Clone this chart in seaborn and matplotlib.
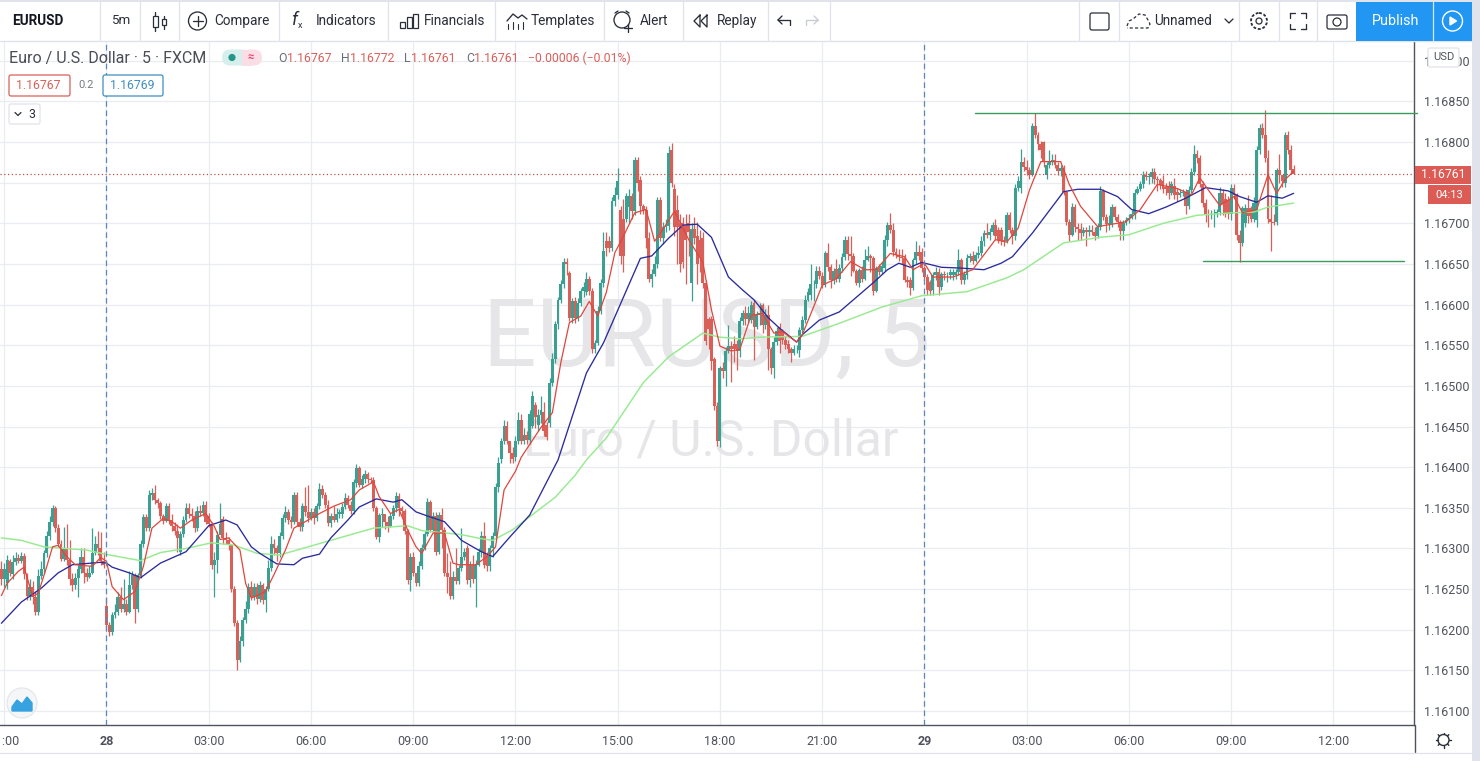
import numpy as np
import pandas as pd
import seaborn as sns
import matplotlib
matplotlib.use("Agg")
import matplotlib.pyplot as plt
from matplotlib.patches import Rectangle, Circle, FancyBboxPatch

# prices are stored as points above 1.16000 (285 -> 1.16285), one candle per 5 minutes, 12 a row
opens = [
    275, 262, 257, 285, 268, 283, 288, 285, 291, 268, 241, 252,
    240, 222, 266, 275, 294, 315, 333, 350, 325, 305, 287, 300,
    286, 263, 255, 264, 275, 290, 270, 265, 270, 295, 305, 300,
    285, 229, 206, 197, 218, 222, 240, 225, 232, 222, 255, 267,
    226, 267, 305, 339, 325, 366, 368, 360, 356, 340, 334, 352,
    335, 328, 322, 296, 318, 335, 350, 342, 340, 325, 346, 344,
    354, 340, 330, 280, 286, 317, 336, 313, 311, 304, 250, 208,
    163, 186, 212, 225, 253, 240, 253, 238, 255, 237, 250, 276,
    306, 300, 294, 315, 337, 345, 335, 333, 366, 333, 327, 352,
    345, 337, 345, 337, 352, 373, 366, 354, 331, 340, 335, 342,
    342, 351, 362, 354, 346, 380, 399, 378, 385, 392, 386, 384,
    350, 314, 341, 342, 333, 328, 340, 350, 365, 350, 346, 322,
    261, 290, 270, 258, 278, 300, 318, 357, 323, 340, 296, 341,
    323, 270, 265, 241, 265, 260, 276, 290, 300, 261, 280, 262,
    280, 296, 315, 292, 278, 300, 315, 376, 410, 432, 451, 432,
    418, 412, 432, 458, 432, 440, 433, 451, 476, 452, 464, 468,
    452, 455, 504, 533, 576, 606, 625, 652, 639, 584, 604, 584,
    602, 617, 615, 631, 617, 545, 553, 592, 627, 678, 678, 670,
    727, 735, 717, 706, 706, 720, 734, 715, 778, 754, 721, 717,
    682, 631, 638, 650, 729, 682, 695, 697, 790, 742, 717, 701,
    701, 698, 701, 627, 693, 684, 680, 682, 627, 582, 582, 533,
    475, 432, 522, 518, 543, 549, 552, 552, 543, 580, 590, 582,
    581, 602, 573, 587, 600, 575, 587, 546, 522, 554, 573, 567,
    557, 552, 546, 541, 545, 544, 569, 581, 606, 612, 625, 625,
    642, 635, 624, 663, 646, 630, 644, 632, 645, 659, 680, 662,
    660, 642, 627, 643, 632, 655, 660, 657, 617, 645, 640, 645,
    680, 698, 692, 665, 661, 659, 658, 630, 630, 621, 655, 665,
    665, 645, 634, 628, 618, 636, 640, 622, 638, 636, 636, 636,
    636, 640, 655, 630, 636, 658, 660, 654, 661, 664, 678, 688,
    686, 690, 698, 692, 692, 680, 678, 710, 692, 684, 743, 743,
    776, 770, 766, 760, 820, 809, 798, 800, 760, 772, 776, 778,
    772, 764, 768, 739, 702, 686, 720, 695, 693, 688, 692, 690,
    692, 690, 684, 696, 740, 708, 699, 699, 720, 708, 702, 691,
    700, 704, 707, 712, 738, 742, 748, 760, 757, 757, 763, 755,
    753, 752, 745, 745, 738, 746, 739, 735, 737, 739, 722, 741,
    763, 785, 780, 749, 725, 712, 710, 711, 712, 714, 738, 730,
    729, 711, 744, 735, 686, 676, 700, 719, 719, 705, 704, 790,
    818, 809, 780, 706, 702, 702, 766, 760, 750, 809, 790, 767,
]
closes = [
    262, 275, 286, 270, 283, 288, 285, 291, 268, 241, 252, 240,
    222, 266, 275, 294, 315, 333, 350, 325, 305, 287, 300, 286,
    263, 255, 264, 275, 290, 270, 265, 270, 295, 305, 300, 285,
    280, 206, 197, 218, 222, 240, 225, 232, 222, 255, 267, 226,
    267, 305, 339, 325, 366, 368, 360, 356, 340, 334, 352, 335,
    328, 322, 313, 318, 335, 350, 342, 340, 325, 346, 344, 354,
    333, 330, 280, 286, 317, 330, 313, 311, 304, 250, 208, 163,
    186, 212, 225, 253, 240, 253, 238, 255, 237, 250, 276, 306,
    300, 294, 315, 337, 345, 335, 333, 366, 333, 327, 352, 345,
    337, 345, 337, 352, 373, 366, 354, 331, 340, 335, 342, 345,
    351, 362, 354, 346, 382, 399, 378, 385, 392, 386, 384, 350,
    314, 341, 342, 333, 328, 340, 350, 365, 350, 346, 322, 261,
    290, 270, 258, 278, 300, 318, 357, 323, 340, 296, 341, 323,
    270, 265, 241, 265, 260, 276, 290, 296, 261, 280, 262, 280,
    296, 315, 280, 278, 300, 315, 376, 405, 432, 451, 432, 418,
    410, 432, 458, 432, 440, 433, 465, 488, 462, 464, 470, 445,
    437, 504, 533, 576, 606, 625, 652, 650, 584, 604, 584, 602,
    617, 622, 631, 617, 545, 553, 592, 627, 666, 670, 670, 727,
    735, 752, 660, 660, 734, 734, 715, 778, 750, 721, 717, 682,
    631, 638, 650, 729, 682, 695, 697, 787, 750, 695, 695, 650,
    652, 680, 690, 693, 682, 650, 660, 627, 555, 570, 531, 475,
    432, 522, 518, 543, 549, 545, 545, 543, 580, 590, 582, 590,
    600, 573, 587, 590, 575, 587, 546, 522, 554, 567, 555, 557,
    550, 546, 541, 545, 546, 569, 581, 606, 616, 625, 625, 642,
    635, 624, 663, 646, 630, 642, 632, 645, 659, 680, 662, 660,
    642, 627, 643, 632, 655, 660, 657, 617, 645, 640, 648, 680,
    698, 692, 665, 661, 659, 658, 630, 628, 621, 655, 665, 660,
    645, 634, 618, 617, 636, 640, 622, 638, 636, 636, 640, 640,
    640, 655, 630, 638, 658, 660, 654, 661, 664, 678, 688, 686,
    690, 698, 684, 680, 680, 678, 710, 692, 684, 743, 752, 776,
    770, 766, 760, 820, 809, 798, 790, 776, 772, 776, 778, 772,
    764, 768, 739, 702, 686, 720, 695, 693, 688, 692, 690, 692,
    690, 684, 696, 740, 708, 699, 699, 720, 708, 702, 691, 700,
    704, 707, 712, 738, 742, 748, 760, 757, 757, 763, 755, 753,
    747, 742, 742, 738, 748, 735, 735, 737, 739, 722, 741, 763,
    785, 780, 749, 725, 712, 710, 711, 712, 714, 738, 724, 712,
    711, 744, 735, 686, 676, 719, 719, 709, 705, 725, 790, 818,
    809, 780, 706, 702, 701, 766, 760, 752, 809, 790, 766, 761,
]
highs = [
    285, 282, 292, 287, 292, 296, 293, 296, 294, 270, 262, 260,
    248, 275, 285, 298, 322, 340, 354, 352, 330, 310, 326, 330,
    310, 270, 270, 280, 300, 300, 276, 278, 325, 315, 322, 320,
    296, 240, 210, 222, 232, 246, 252, 262, 238, 272, 272, 270,
    270, 310, 342, 342, 372, 374, 378, 362, 358, 342, 356, 356,
    342, 332, 330, 322, 340, 356, 356, 350, 346, 352, 354, 358,
    358, 344, 332, 296, 322, 356, 340, 320, 314, 306, 254, 212,
    192, 216, 235, 258, 260, 258, 258, 260, 258, 254, 286, 315,
    312, 304, 320, 342, 352, 348, 340, 370, 370, 338, 356, 376,
    378, 350, 350, 356, 380, 378, 370, 360, 344, 352, 350, 348,
    356, 368, 366, 358, 386, 404, 402, 390, 396, 394, 388, 388,
    352, 344, 350, 338, 340, 344, 354, 370, 368, 352, 348, 324,
    295, 296, 262, 285, 305, 322, 362, 360, 345, 345, 345, 350,
    326, 295, 285, 272, 300, 280, 325, 300, 304, 285, 292, 286,
    300, 322, 332, 296, 304, 320, 380, 412, 436, 458, 457, 430,
    425, 438, 468, 465, 448, 444, 470, 494, 480, 472, 488, 480,
    456, 510, 540, 580, 610, 630, 658, 658, 642, 608, 610, 608,
    620, 628, 640, 635, 620, 556, 598, 632, 690, 690, 684, 732,
    745, 768, 722, 730, 738, 742, 738, 782, 782, 758, 724, 722,
    690, 644, 660, 732, 732, 702, 705, 795, 799, 748, 735, 712,
    708, 712, 712, 700, 708, 702, 692, 690, 630, 585, 586, 536,
    480, 525, 530, 548, 575, 555, 562, 556, 585, 594, 598, 598,
    605, 606, 592, 602, 602, 595, 600, 548, 560, 572, 578, 570,
    562, 556, 548, 550, 550, 572, 586, 612, 620, 650, 630, 648,
    648, 640, 666, 676, 650, 645, 656, 650, 663, 684, 685, 685,
    664, 644, 645, 648, 668, 672, 662, 660, 648, 650, 652, 686,
    702, 713, 700, 670, 668, 668, 662, 635, 634, 658, 678, 674,
    670, 648, 638, 630, 640, 646, 645, 640, 642, 640, 644, 644,
    644, 668, 658, 642, 662, 664, 666, 665, 672, 684, 692, 700,
    694, 702, 706, 696, 696, 684, 714, 714, 696, 748, 758, 792,
    782, 778, 770, 824, 836, 812, 802, 802, 775, 790, 786, 786,
    776, 772, 772, 740, 705, 725, 724, 700, 700, 696, 696, 698,
    698, 696, 700, 746, 742, 712, 710, 724, 722, 712, 704, 704,
    708, 712, 716, 742, 746, 752, 764, 764, 762, 768, 768, 758,
    756, 760, 750, 752, 752, 756, 744, 742, 742, 742, 746, 768,
    796, 790, 784, 752, 730, 718, 716, 718, 718, 745, 742, 738,
    734, 748, 748, 738, 692, 722, 724, 735, 722, 732, 795, 822,
    824, 840, 790, 735, 712, 768, 785, 760, 812, 814, 796, 772,
]
lows = [
    255, 252, 250, 266, 262, 280, 282, 282, 262, 236, 236, 232,
    218, 218, 262, 270, 290, 310, 328, 320, 302, 284, 284, 280,
    255, 248, 250, 240, 270, 258, 260, 264, 268, 292, 292, 280,
    276, 200, 192, 194, 214, 218, 222, 222, 218, 220, 250, 208,
    222, 264, 302, 322, 322, 360, 355, 350, 336, 330, 332, 330,
    322, 316, 296, 292, 314, 332, 338, 334, 320, 322, 340, 340,
    330, 326, 275, 240, 270, 326, 306, 305, 298, 246, 204, 150,
    160, 180, 208, 220, 236, 236, 232, 234, 232, 222, 248, 272,
    292, 284, 290, 312, 332, 330, 325, 330, 328, 322, 322, 340,
    332, 335, 330, 334, 348, 362, 350, 328, 326, 332, 332, 338,
    338, 348, 350, 342, 342, 376, 376, 374, 380, 380, 380, 346,
    312, 308, 326, 324, 320, 326, 336, 345, 340, 340, 318, 256,
    248, 266, 254, 254, 275, 298, 315, 320, 320, 292, 293, 300,
    266, 245, 238, 238, 256, 256, 272, 286, 256, 252, 258, 228,
    278, 290, 276, 272, 272, 290, 312, 370, 405, 428, 428, 405,
    405, 408, 428, 428, 428, 428, 428, 448, 448, 445, 455, 438,
    434, 450, 500, 528, 570, 602, 620, 636, 580, 578, 578, 580,
    598, 610, 612, 612, 540, 540, 550, 588, 622, 660, 665, 666,
    722, 730, 650, 640, 702, 700, 705, 710, 740, 712, 712, 670,
    628, 622, 635, 645, 678, 675, 690, 692, 745, 685, 650, 640,
    645, 625, 660, 605, 675, 625, 640, 620, 550, 545, 520, 470,
    426, 425, 510, 500, 540, 505, 530, 520, 535, 575, 575, 578,
    578, 532, 570, 575, 565, 570, 520, 515, 510, 550, 540, 552,
    546, 540, 530, 538, 540, 535, 565, 578, 604, 606, 605, 620,
    632, 620, 622, 642, 620, 625, 628, 628, 640, 655, 655, 635,
    640, 624, 622, 628, 630, 654, 640, 612, 615, 636, 638, 642,
    672, 688, 660, 658, 654, 650, 628, 622, 612, 618, 650, 655,
    640, 630, 612, 612, 612, 630, 612, 618, 630, 628, 632, 630,
    632, 636, 626, 625, 632, 652, 650, 652, 658, 660, 672, 682,
    680, 686, 680, 676, 674, 672, 676, 688, 675, 680, 740, 738,
    764, 760, 755, 758, 805, 790, 780, 770, 755, 768, 772, 768,
    760, 758, 735, 698, 678, 684, 690, 680, 680, 684, 672, 684,
    686, 680, 682, 692, 704, 690, 692, 696, 704, 696, 680, 680,
    698, 700, 705, 706, 736, 740, 744, 754, 748, 750, 748, 740,
    742, 738, 735, 730, 735, 730, 728, 732, 734, 712, 718, 738,
    760, 774, 745, 720, 702, 695, 706, 695, 708, 710, 710, 708,
    706, 704, 730, 680, 652, 672, 696, 700, 702, 702, 695, 786,
    805, 775, 700, 666, 698, 698, 750, 745, 745, 786, 762, 761,
]

fast_at = [0, 2, 6, 8, 11, 13, 16, 18, 20, 23, 26, 32, 35, 37, 39, 43, 47, 50, 53, 57, 60, 63, 67, 72, 75, 77, 80,
           84, 86, 88, 93, 96, 100, 103, 109, 112, 117, 123, 126, 131, 133, 137, 140, 143, 146, 148, 152, 156, 159,
           161, 167, 171, 174, 177, 181, 183, 190, 194, 197, 200, 204, 207, 210, 213, 216, 219, 223, 227, 230, 233,
           237, 242, 247, 250, 253, 257, 260, 264, 268, 272, 275, 280, 282, 287, 289, 294, 299, 304, 308, 313, 318,
           321, 325, 328, 335, 342, 350, 354, 358, 362, 366, 369, 373, 376, 380, 386, 396, 401, 407, 414, 419, 422,
           425, 429, 434, 437, 442, 446, 449, 452, 455]
fast_ma = [242, 257, 272, 277, 241, 245, 278, 302, 304, 290, 280, 278, 289, 284, 253, 237, 247, 278, 325, 337, 333,
           325, 335, 343, 327, 311, 313, 298, 257, 239, 247, 268, 298, 325, 337, 343, 352, 360, 372, 382, 364, 343,
           348, 323, 302, 294, 319, 319, 282, 280, 280, 290, 302, 372, 395, 412, 449, 467, 529, 578, 586, 604, 586,
           615, 664, 684, 713, 717, 678, 693, 715, 680, 652, 594, 549, 543, 545, 587, 589, 565, 567, 554, 563, 606,
           624, 632, 653, 643, 643, 663, 659, 643, 651, 634, 634, 643, 680, 677, 694, 741, 776, 776, 776, 748, 721,
           696, 702, 717, 748, 743, 735, 756, 741, 722, 733, 713, 717, 760, 737, 754, 764]
mid_at = [0, 7, 14, 20, 25, 35, 37, 39, 45, 49, 56, 65, 73, 79, 83, 88, 91, 97, 103, 106, 112, 116, 122, 126, 132,
          138, 141, 146, 150, 156, 162, 169, 173, 179, 186, 196, 206, 212, 219, 225, 229, 235, 240, 245, 250, 256,
          261, 265, 270, 274, 280, 282, 288, 295, 301, 307, 312, 316, 320, 324, 331, 338, 346, 352, 356, 363, 374,
          379, 387, 393, 398, 404, 410, 417, 424, 432, 436, 442, 446, 451, 455]
mid_ma = [208, 234, 251, 270, 280, 283, 282, 277, 270, 264, 282, 296, 328, 335, 329, 302, 294, 281, 280, 288, 293,
          313, 335, 351, 361, 357, 360, 345, 340, 333, 310, 296, 290, 314, 341, 409, 516, 553, 609, 657, 660, 682,
          698, 699, 683, 634, 618, 606, 584, 571, 554, 563, 581, 591, 609, 627, 643, 651, 646, 652, 646, 645, 643,
          651, 659, 688, 739, 742, 742, 733, 717, 712, 720, 731, 744, 740, 733, 726, 734, 731, 737]
slow_at = [0, 7, 15, 30, 38, 49, 56, 65, 74, 82, 90, 98, 113, 131, 143, 148, 162, 169, 173, 180, 186, 195, 202, 206,
           213, 226, 235, 247, 253, 260, 267, 282, 295, 310, 324, 340, 354, 360, 374, 387, 397, 409, 421, 433, 441,
           446, 455]
slow_ma = [313, 310, 302, 298, 292, 285, 295, 300, 307, 304, 294, 292, 307, 325, 328, 322, 317, 312, 310, 323, 339,
           363, 390, 409, 436, 504, 536, 565, 560, 558, 560, 561, 577, 597, 611, 616, 633, 643, 676, 683, 686, 700,
           710, 713, 714, 720, 725]

tick_at = [1, 37, 73, 109, 145, 181, 217, 253, 289, 325, 361, 397, 433, 469]
tick_labels = ["21:00", "28", "03:00", "06:00", "09:00", "12:00", "15:00", "18:00", "21:00", "29", "03:00", "06:00", "09:00", "12:00"]
session_at = [37, 325]
price_ticks = [100, 150, 200, 250, 300, 350, 400, 450, 500, 550, 600, 650, 700, 750, 800, 850, 900]

# the two levels drawn by hand on the chart: price, first candle, last candle
level_prices = [836, 654]
level_from = [342.8, 423]
level_to = [498.4, 493.8]
last_price = 761

UP = "#3b9f92"
DOWN = "#d95f59"
TEXT = "#50535e"
GRID = "#e9edf1"
BORDER = "#e0e3eb"
W, H = 1480, 761


def to_price(points):
    return 1.16 + np.asarray(points, dtype=float) / 1e5


def draw_candles(ax):
    df = pd.DataFrame({"o": to_price(opens), "h": to_price(highs), "l": to_price(lows), "c": to_price(closes)})
    df["n"] = np.arange(len(df))
    df["col"] = np.where(df["c"] >= df["o"], UP, DOWN)
    ax.vlines(df["n"], df["l"], df["h"], colors=df["col"], lw=0.9, zorder=3)
    ax.bar(df["n"], (df["c"] - df["o"]).abs().clip(lower=1e-5), bottom=df[["o", "c"]].min(axis=1),
           width=1.02, color=df["col"], linewidth=0, zorder=3)


def draw_averages(ax):
    for at, values, col, lw in [(slow_at, slow_ma, "#97ea8f", 1.05), (mid_at, mid_ma, "#2a2a9c", 0.95),
                                (fast_at, fast_ma, "#e2453c", 0.9)]:
        line = pd.DataFrame({"n": at, "p": to_price(values)})
        sns.lineplot(data=line, x="n", y="p", ax=ax, color=col, lw=lw, estimator=None, sort=False, legend=False,
                     zorder=4, solid_joinstyle="round")


def draw_chart(fig):
    ax = fig.add_axes([0, (H - 725) / H, 1414 / W, 684 / H])
    ax.set_xlim((0 - 1.4) / 2.84, (1414 - 1.4) / 2.84)
    ax.set_ylim(to_price(850 - (725 - 101.5) * 1.2305), to_price(850 + (101.5 - 41) * 1.2305))
    ax.set_axisbelow(True)

    ax.set_yticks(to_price(price_ticks))
    # 1.16750 sits fully under the last price tag, so it stays blank
    ax.set_yticklabels(["" if t == 750 else f"{p:.5f}" for t, p in zip(price_ticks, to_price(price_ticks))])
    ax.set_xticks(tick_at)
    ax.set_xticklabels(tick_labels)
    ax.yaxis.tick_right()
    ax.tick_params(axis="y", length=4, width=0.8, color="#50535e", labelcolor=TEXT, labelsize=9, pad=3)
    ax.tick_params(axis="x", length=3, width=0.8, color="#50535e", labelcolor=TEXT, labelsize=9, pad=4)
    for lab, txt in zip(ax.get_xticklabels(), tick_labels):
        if len(txt) == 2:
            lab.set_fontweight("bold")
    ax.grid(True, color=GRID, lw=0.9)
    sns.despine(ax=ax, top=True, left=True, right=False, bottom=False)
    ax.spines["right"].set_color("#50535e")
    ax.spines["bottom"].set_color("#50535e")
    ax.spines["right"].set_linewidth(1.0)
    ax.spines["bottom"].set_linewidth(1.0)

    draw_candles(ax)
    draw_averages(ax)
    ax.set_xlabel("")
    ax.set_ylabel("")

    for n in session_at:
        ax.axvline(n, color="#5b87bd", lw=0.9, ls=(0, (4.5, 3)), zorder=5)
    ax.axhline(to_price(last_price), color="#c0504a", lw=0.9, ls=(0, (1, 2)), zorder=5)
    for price, x0, x1 in zip(level_prices, level_from, level_to):
        ax.plot([x0, x1], to_price([price, price]), color="#3d9a5f", lw=1.0, zorder=6, clip_on=False)
    return ax


def label(ui, x, y, s, size=10, color=TEXT, **kw):
    kw.setdefault("ha", "left")
    kw.setdefault("va", "center")
    ui.text(x, y, s, fontsize=size, color=color, **kw)


def round_box(ui, x, y, w, h, edge, face="white", lw=0.9, z=8):
    ui.add_patch(FancyBboxPatch((x + 2, y + 2), w - 4, h - 4, boxstyle="round,pad=2", fc=face, ec=edge, lw=lw, zorder=z))


def stroke(ui, xs, ys, color="#2a2e39", lw=0.95, **kw):
    ui.plot(xs, ys, color=color, lw=lw, solid_capstyle="round", zorder=9, **kw)


def draw_toolbar(ui):
    ui.add_patch(Rectangle((0, 0), W, 40.5, fc="white", ec="none", zorder=7))
    ui.add_patch(Rectangle((0, 0), W, 2, fc=BORDER, ec="none", zorder=8))
    ui.plot([0, 1472], [40.5, 40.5], color=BORDER, lw=1, zorder=8)
    for x in [100, 140, 179, 279, 388, 495, 604, 683, 768, 830, 1079, 1119, 1239, 1279, 1317]:
        ui.plot([x, x], [2, 40], color=BORDER, lw=0.9, zorder=8)

    label(ui, 12, 21, "EURUSD", 9.8, "#131722", fontweight="bold", zorder=9)
    label(ui, 111, 21, "5m", 9.6, "#2a2e39", zorder=9)
    label(ui, 214, 21, "Compare", 9.8, "#2a2e39", zorder=9)
    label(ui, 316, 21, "Indicators", 9.8, "#2a2e39", zorder=9)
    label(ui, 424, 21, "Financials", 9.8, "#2a2e39", zorder=9)
    label(ui, 531, 21, "Templates", 9.8, "#2a2e39", zorder=9)
    label(ui, 640, 21, "Alert", 9.8, "#2a2e39", zorder=9)
    label(ui, 717, 21, "Replay", 9.8, "#2a2e39", zorder=9)
    label(ui, 1154, 21, "Unnamed", 9.8, "#2a2e39", zorder=9)
    label(ui, 1372, 21, "Publish", 10.4, "white", zorder=9)
    label(ui, 298, 25, "x", 6.5, "#2a2e39", zorder=9)
    label(ui, 292, 20, "f", 13, "#2a2e39", style="italic", zorder=9)

    # candle icon
    stroke(ui, [155, 155], [12, 31]); stroke(ui, [164, 164], [16, 29])
    ui.add_patch(Rectangle((152.5, 16), 5, 11, fc="white", ec="#2a2e39", lw=0.9, zorder=10))
    ui.add_patch(Rectangle((162, 19), 4, 6, fc="white", ec="#2a2e39", lw=0.9, zorder=10))
    # compare icon
    ui.add_patch(Circle((197.5, 21), 9, fc="none", ec="#2a2e39", lw=0.95, zorder=9))
    stroke(ui, [197.5, 197.5], [16, 26]); stroke(ui, [192.5, 202.5], [21, 21])
    # financials icon
    for x0, top in [(400, 22), (406.5, 17), (413, 14)]:
        ui.add_patch(Rectangle((x0, top), 5, 28 - top, fc="none", ec="#2a2e39", lw=0.9, zorder=9))
    # templates icon
    stroke(ui, [507, 513, 518, 522, 527], [21, 14, 18, 15, 19])
    for x0, top in [(508, 24), (513, 22), (518, 24), (523, 22)]:
        stroke(ui, [x0, x0], [top, 29], lw=0.8)
    # alert icon
    ui.add_patch(Circle((622, 20), 8, fc="none", ec="#2a2e39", lw=0.95, zorder=9))
    stroke(ui, [628, 628], [24, 32]); stroke(ui, [624, 632], [28, 28])
    stroke(ui, [615, 618], [13, 11]); stroke(ui, [626, 629], [11, 13])
    # replay icon
    stroke(ui, [700, 694, 700, 700], [15, 21, 27, 15]); stroke(ui, [707, 701, 707, 707], [15, 21, 27, 15])
    # undo / redo
    stroke(ui, [778, 790, 790], [20, 20, 25]); stroke(ui, [778, 782], [20, 16]); stroke(ui, [778, 782], [20, 24])
    stroke(ui, [818, 806, 806], [20, 20, 25], "#c8cbd3"); stroke(ui, [818, 814], [20, 16], "#c8cbd3"); stroke(ui, [818, 814], [20, 24], "#c8cbd3")
    # layout box, dashed cloud, gear, fullscreen, camera
    round_box(ui, 1090, 13, 19, 17, "#2a2e39", z=9)
    stroke(ui, [1127, 1129, 1133, 1139, 1145, 1148, 1150, 1148, 1127], [26, 21, 19, 14, 15, 20, 24, 28, 28],
           lw=0.9, ls=(0, (2.5, 1.8)))
    stroke(ui, [1225, 1229, 1233], [19, 23, 19])
    ui.add_patch(Circle((1259, 21), 8, fc="none", ec="#2a2e39", lw=1.3, ls=(0, (1.6, 1)), zorder=9))
    ui.add_patch(Circle((1259, 21), 3, fc="none", ec="#2a2e39", lw=0.9, zorder=9))
    for sx, sy in [(-1, -1), (1, -1), (-1, 1), (1, 1)]:
        cx, cy = 1298 + sx * 8, 21 + sy * 8
        stroke(ui, [cx, cx - sx * 5], [cy, cy]); stroke(ui, [cx, cx], [cy, cy - sy * 5])
    round_box(ui, 1327, 15, 20, 14, "#2a2e39", z=9)
    ui.add_patch(Circle((1337, 22), 4, fc="none", ec="#2a2e39", lw=0.9, zorder=10))
    # publish and play buttons
    ui.add_patch(Rectangle((1356, 2), 116, 38.5, fc="#2196f3", ec="none", zorder=8))
    ui.plot([1433, 1433], [2, 40], color="#d4eafc", lw=0.9, zorder=9)
    ui.add_patch(Circle((1452.5, 21), 10, fc="none", ec="white", lw=1.0, zorder=9))
    ui.fill([1450, 1450, 1456.5], [17, 25, 21], color="white", zorder=9)


def draw_legend(ui):
    label(ui, 9, 58, "Euro / U.S. Dollar \u00b7 5 \u00b7 FXCM", 11.5, "#4a4d58", zorder=9)
    pill = "round,pad=0,rounding_size=8"
    ui.add_patch(FancyBboxPatch((222, 49.5), 28, 16, boxstyle=pill, fc="#d7efec", ec="none", zorder=8))
    ui.add_patch(Rectangle((242, 49.5), 10, 16, fc="#fbdde6", ec="none", zorder=8))
    ui.add_patch(FancyBboxPatch((242, 49.5), 20, 16, boxstyle=pill, fc="#fbdde6", ec="none", zorder=8))
    ui.add_patch(Circle((232, 57.5), 3.6, fc="#26958a", ec="none", zorder=9))
    label(ui, 251, 57, "\u2248", 8, "#e0476f", ha="center", fontweight="bold", zorder=9)

    for x, s in [(278, "O"), (341, "H"), (404, "L"), (466, "C")]:
        label(ui, x, 58, s, 8.8, "#6b6e78", zorder=9)
    for x, s in [(287, "1.16767"), (350, "1.16772"), (411, "1.16761"), (474, "1.16761"), (528, "\u22120.00006 (\u22120.01%)")]:
        label(ui, x, 58, s, 8.8, "#d9605a", zorder=9)

    round_box(ui, 9, 75, 61, 21, "#d9605a")
    label(ui, 16, 85.5, "1.16767", 8.8, "#d9605a", zorder=9)
    label(ui, 78, 85.5, "0.2", 8, "#787b86", zorder=9)
    round_box(ui, 103, 75, 60, 21, "#3f8fc0")
    label(ui, 110, 85.5, "1.16769", 8.8, "#3f8fc0", zorder=9)
    round_box(ui, 9, 104, 31, 20, "#e0e3eb")
    stroke(ui, [15, 18, 21], [112.5, 115.5, 112.5], lw=0.9)
    label(ui, 28, 114, "3", 8.8, "#2a2e39", zorder=9)


def draw_price_side(ui):
    round_box(ui, 1428, 48, 31, 19, "#e0e3eb")
    label(ui, 1443.5, 57.5, "USD", 8, "#50535e", ha="center", zorder=9)
    ui.add_patch(Rectangle((1415, 166), 56, 18, fc="#dd5b55", ec="none", zorder=8))
    ui.add_patch(Rectangle((1428, 185), 43, 19, fc="#dd5b55", ec="none", zorder=8))
    label(ui, 1443, 175, "1.16761", 8.8, "white", ha="center", zorder=9)
    label(ui, 1449, 194.5, "04:13", 8, "white", ha="center", zorder=9)
    ui.add_patch(Rectangle((1472, 0), 8, H, fc=BORDER, ec="none", zorder=8))
    ui.plot([1414.5, 1414.5], [725, 752], color="#50535e", lw=1.0, zorder=8)
    ui.plot([0, 1472], [752.5, 752.5], color=BORDER, lw=0.9, zorder=8)
    # settings gear in the corner
    ui.add_patch(Circle((1443.5, 740), 5.5, fc="white", ec="#2a2e39", lw=1.0, zorder=9))
    for dx, dy in [(0, 7.5), (0, -7.5), (7.5, 0), (-7.5, 0), (5.3, 5.3), (-5.3, 5.3), (5.3, -5.3), (-5.3, -5.3)]:
        stroke(ui, [1443.5 + dx * 0.75, 1443.5 + dx], [740 + dy * 0.75, 740 + dy], lw=1.0)
    # tradingview badge
    ui.add_patch(Circle((22, 703), 15, fc="#f4f6f8", ec="#e4e7ec", lw=0.9, zorder=6))
    ui.fill([12, 17, 22, 27, 32, 32, 12], [707, 700, 704, 697, 703, 711, 711], color="#37a2e0", zorder=7)


def main():
    sns.set_theme(style="white", rc={"font.family": ["Roboto", "DejaVu Sans"]})
    fig = plt.figure(figsize=(W / 100, H / 100), dpi=100, facecolor="white")

    ax = draw_chart(fig)
    # watermark sits under the candles, in axes pixels
    wm = ax.transAxes.inverted()
    for s, px, py, size in [("EURUSD, 5", 707, 339, 68), ("Euro / U.S. Dollar", 711, 441, 35.8)]:
        ax.text(*wm.transform((px, H - py)), s, transform=ax.transAxes, ha="center", va="center",
                fontsize=size, color="#e6e6e9", zorder=1)

    ui = fig.add_axes([0, 0, 1, 1], facecolor="none")
    ui.set_xlim(0, W)
    ui.set_ylim(H, 0)
    ui.axis("off")
    draw_toolbar(ui)
    draw_legend(ui)
    draw_price_side(ui)

    fig.savefig("out.png", dpi=100)


if __name__ == "__main__":
    main()
